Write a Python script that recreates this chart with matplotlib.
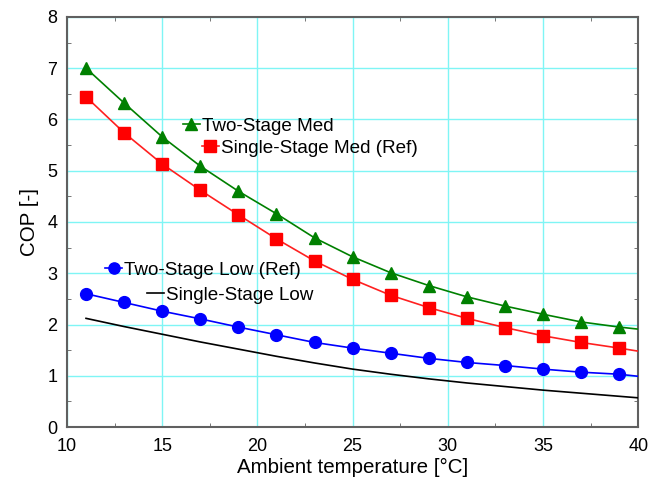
import matplotlib
matplotlib.use("Agg")
import matplotlib.pyplot as plt
from matplotlib.legend import Legend
from matplotlib.ticker import MultipleLocator

plt.rcParams['font.family'] = ['Liberation Sans', 'DejaVu Sans']

# Ambient temperature points (markers every 2 degC, curve runs to 40)
temp = [11, 13, 15, 17, 19, 21, 23, 25, 27, 29, 31, 33, 35, 37, 39, 40]

two_stage_med = [7.00, 6.32, 5.66, 5.09, 4.60, 4.16, 3.69, 3.32, 3.01, 2.76,
                 2.54, 2.36, 2.20, 2.05, 1.95, 1.91]
single_stage_med = [6.44, 5.74, 5.13, 4.62, 4.14, 3.67, 3.24, 2.88, 2.57, 2.33,
                    2.12, 1.94, 1.78, 1.65, 1.54, 1.48]
two_stage_low = [2.60, 2.43, 2.26, 2.11, 1.95, 1.80, 1.65, 1.54, 1.44, 1.34,
                 1.26, 1.20, 1.13, 1.07, 1.03, 0.99]
single_stage_low = [2.12, 1.96, 1.81, 1.66, 1.52, 1.38, 1.25, 1.13, 1.03, 0.94,
                    0.86, 0.79, 0.72, 0.66, 0.60, 0.57]

fig = plt.figure(figsize=(6.6, 4.82), dpi=100)
ax = fig.add_axes([0.1015, 0.114, 0.8655, 0.851])

marks = list(range(len(temp) - 1))
l_tsm, = ax.plot(temp, two_stage_med, color='#008000', lw=1.2, marker='^',
                 ms=8.5, markevery=marks, label='Two-Stage Med', zorder=3)
l_ssm, = ax.plot(temp, single_stage_med, color='#ff2020', lw=1.2, marker='s',
                 ms=8.5, mfc='#ff0000', mec='#ff0000', markevery=marks,
                 label='Single-Stage Med (Ref)', zorder=3)
l_tsl, = ax.plot(temp, two_stage_low, color='#0000ff', lw=1.2, marker='o',
                 ms=8.5, markevery=marks, label='Two-Stage Low (Ref)', zorder=3)
l_ssl, = ax.plot(temp, single_stage_low, color='black', lw=1.2,
                 label='Single-Stage Low', zorder=3)

ax.set_xlim(10, 40)
ax.set_ylim(0, 8)
ax.xaxis.set_major_locator(MultipleLocator(5))
ax.xaxis.set_minor_locator(MultipleLocator(2.5))
ax.yaxis.set_major_locator(MultipleLocator(1))
ax.yaxis.set_minor_locator(MultipleLocator(0.5))
ax.tick_params(which='both', direction='in', top=True, right=True,
               labelsize=13, color='#606060')
ax.tick_params(which='major', length=0)
ax.tick_params(axis='x', which='major', pad=8)
ax.tick_params(axis='y', which='major', pad=7)
ax.tick_params(which='minor', length=3)
ax.grid(True, which='major', color='#7ff5f5', lw=1.0, zorder=0)
for s in ax.spines.values():
    s.set_color('#606060')
    s.set_linewidth(1.5)

ax.set_xlabel('Ambient temperature [°C]', fontsize=14.8, labelpad=2)
ax.set_ylabel('COP [-]', fontsize=14.8, labelpad=6)

# staggered single-entry legends like the original
legend_spots = [
    (l_tsm, (0.203, 0.734)),
    (l_ssm, (0.236, 0.680)),
    (l_tsl, (0.067, 0.383)),
    (l_ssl, (0.140, 0.322)),
]
for line, anchor in legend_spots:
    lg = Legend(ax, [line], [line.get_label()], loc='center left',
                bbox_to_anchor=anchor, frameon=False, fontsize=13.6,
                handlelength=0.9, handletextpad=0.1, borderpad=0,
                borderaxespad=0, markerscale=0.95)
    ax.add_artist(lg)

fig.savefig('out.png', dpi=100)
